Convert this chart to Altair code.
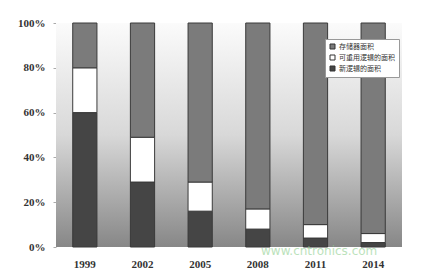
import altair as alt
import pandas as pd

years = ["1999", "2002", "2005", "2008", "2011", "2014"]
new_logic = [60, 29, 16, 8, 4, 2]
reuse_logic = [20, 20, 13, 9, 6, 4]
memory = [20, 51, 71, 83, 90, 94]
series = ["存储器面积", "可重用逻辑的面积", "新逻辑的面积"]
colors = ["#7b7b7b", "#ffffff", "#454545"]
order = {"新逻辑的面积": 0, "可重用逻辑的面积": 1, "存储器面积": 2}

rows = []
for i, y in enumerate(years):
    for s, v in zip(["新逻辑的面积", "可重用逻辑的面积", "存储器面积"],
                    [new_logic[i], reuse_logic[i], memory[i]]):
        rows.append({"year": y, "series": s, "value": v, "ord": order[s]})
df = pd.DataFrame(rows)

W, H = 346, 224

bg = alt.Chart(pd.DataFrame({"a": [0]})).mark_rect(
    color=alt.LinearGradient(
        gradient="linear", x1=0, y1=0, x2=0, y2=1,
        stops=[alt.GradientStop(color="#fbfbfb", offset=0),
               alt.GradientStop(color="#d8d8d8", offset=0.5),
               alt.GradientStop(color="#878787", offset=1)])
).encode(x=alt.value(0), x2=alt.value(W), y=alt.value(0), y2=alt.value(H))

bars = alt.Chart(df).mark_bar(stroke="#3a3a3a", strokeWidth=1).encode(
    x=alt.X("year:N", sort=years, scale=alt.Scale(paddingInner=0.58, paddingOuter=0.29),
            axis=alt.Axis(title=None, labelAngle=0, labelFont="Liberation Serif",
                          labelFontSize=11, labelFontWeight="bold", labelColor="#333",
                          domain=False, ticks=False, labelPadding=11)),
    y=alt.Y("value:Q", stack="zero", scale=alt.Scale(domain=[0, 100]),
            axis=alt.Axis(title=None, values=[0, 20, 40, 60, 80, 100],
                          labelExpr="datum.value + '%'", labelFont="Liberation Serif",
                          labelFontSize=11, labelFontWeight="bold", labelColor="#333",
                          grid=False, domain=False, tickSize=3, tickColor="#aaa",
                          labelPadding=8)),
    color=alt.Color("series:N", scale=alt.Scale(domain=series, range=colors),
                    legend=alt.Legend(title=None, orient="none", legendX=269, legendY=16,
                                      symbolType="square", symbolSize=25,
                                      symbolStrokeColor="#333", symbolStrokeWidth=1,
                                      labelFont="Noto Sans CJK SC", labelFontSize=7,
                                      labelColor="#333", fillColor="#ffffff",
                                      strokeColor="#999", padding=4, rowPadding=2,
                                      labelOffset=3)),
    order=alt.Order("ord:Q"),
)

wm = alt.Chart(pd.DataFrame({"t": ["www.cntronics.com"]})).mark_text(
    font="DejaVu Sans", fontSize=12, color="#8fcf8f", opacity=0.6, align="left",
    baseline="middle"
).encode(x=alt.value(205), y=alt.value(H + 4), text="t:N")

chart = alt.layer(bg, bars, wm).properties(
    width=W, height=H,
    autosize=alt.AutoSizeParams(type="none"),
    padding={"left": 56, "top": 23, "right": 23, "bottom": 29},
).configure_view(stroke=None)

chart.save("out.html", embed_options={"renderer": "svg", "actions": False})
